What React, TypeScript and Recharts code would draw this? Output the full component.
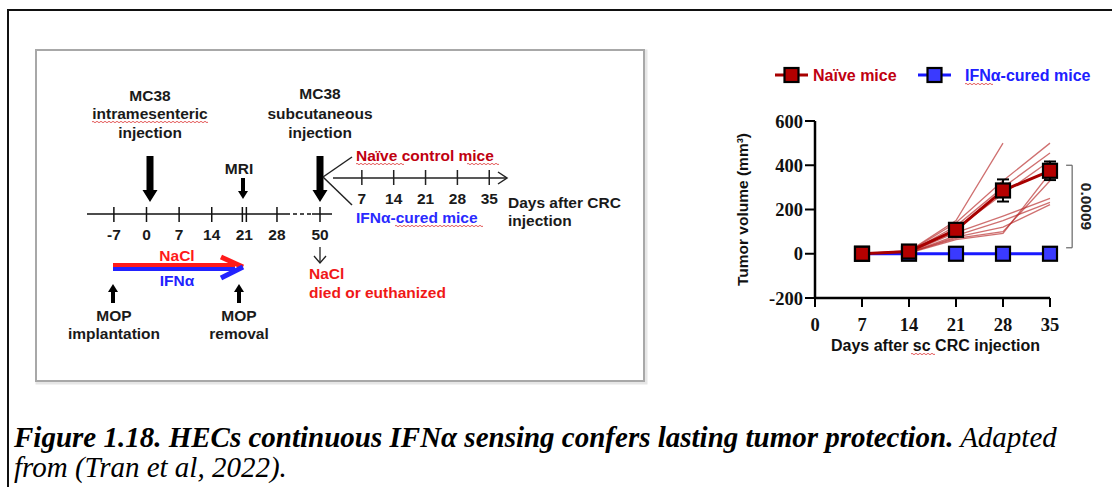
import React from 'react';
import { LineChart, Line, XAxis, YAxis, ErrorBar, ReferenceLine, Label } from 'recharts';

// growth curve data (days after sc CRC injection)
const days = [7, 14, 21, 28, 35];
const naiveMean = [0, 10, 108, 286, 375];
const naiveErr = [0, 0, 0, 50, 42];
const curedMean = [0, 0, 0, 0, 0];

// individual naive mice
const mouse1 = [0, 12, 150, 500, null];
const mouse2 = [0, 10, 140, 330, 500];
const mouse3 = [0, 8, 125, 300, 455];
const mouse4 = [0, 14, 112, 270, 420];
const mouse5 = [0, 6, 95, 170, 250];
const mouse6 = [0, 5, 82, 150, 232];
const mouse7 = [0, 4, 75, 120, 222];
const mouse8 = [0, 5, 70, 100, 330];
const mouse9 = [0, 3, 64, 92, 365];
const mice = [mouse1, mouse2, mouse3, mouse4, mouse5, mouse6, mouse7, mouse8, mouse9];

const xTicks = [0, 7, 14, 21, 28, 35];
const yTicks = [-200, 0, 200, 400, 600];
const seriesNames = ['Naïve mice', 'IFNα-cured mice'];
const pValue = '0.0009';

// schematic timelines
const preDays = [-7, 0, 7, 14, 21, 28];
const breakDay = 50;
const postDays = [7, 14, 21, 28, 35];

const data = days.map((d, i) => {
  const row: Record<string, number | null> = {
    day: d,
    naive: naiveMean[i],
    naiveErr: naiveErr[i],
    cured: curedMean[i],
  };
  mice.forEach((m, j) => {
    row['m' + j] = m[i];
  });
  return row;
});

const RED = '#a80000';
const RED_FILL = '#b40000';
const RED_TEXT = '#c00010';
const BLUE = '#1818ff';
const BLUE_FILL = '#3a3aff';
const SANS = "'Liberation Sans', Arial, sans-serif";
const SERIF = "'Liberation Serif', 'Times New Roman', serif";

const squareDot = (fill: string) => (props: any) => {
  const { cx, cy, index } = props;
  if (cx == null || cy == null) return <g key={index} />;
  return (
    <rect key={index} x={cx - 7} y={cy - 7} width={14} height={14} fill={fill} stroke="#000" strokeWidth={2.2} />
  );
};

const wavy = (x1: number, x2: number, y: number, key: string) => {
  let d = `M${x1},${y}`;
  for (let x = x1; x < x2; x += 4) d += ' q1,-1.4 2,0 q1,1.4 2,0';
  return <path key={key} d={d} stroke="#e04848" strokeWidth={0.9} fill="none" />;
};

const T = ({ x, y, children, color = '#1a1a1a', anchor = 'middle', size = 15.5 }: any) => (
  <text
    x={x}
    y={y}
    fill={color}
    textAnchor={anchor}
    dominantBaseline="central"
    fontSize={size}
    fontWeight="bold"
    fontFamily={SANS}
  >
    {children}
  </text>
);

const blockArrow = (x: number, yTail: number, yTip: number, shaft: number, head: number, headLen: number) => {
  const dir = yTip > yTail ? 1 : -1;
  const yb = yTip - dir * headLen;
  return (
    <path
      d={`M${x - shaft / 2},${yTail} L${x + shaft / 2},${yTail} L${x + shaft / 2},${yb} L${x + head / 2},${yb} L${x},${yTip} L${x - head / 2},${yb} L${x - shaft / 2},${yb} Z`}
      fill="#000"
    />
  );
};

const preX = (d: number) => 146.5 + d * 4.66;
const postX = (d: number) => 330 + d * 4.55;

const Schematic = () => (
  <g>
    <rect x={37} y={51} width={609} height={332} fill="none" stroke="#e6e6e6" strokeWidth={3} />
    <rect x={36} y={50} width={608} height={331} fill="#fff" stroke="#a8a8a8" strokeWidth={2} />

    <T x={150} y={95}>MC38</T>
    <T x={150} y={113}>intramesenteric</T>
    <T x={150} y={132}>injection</T>
    {wavy(92, 208, 122, 'w1')}
    {blockArrow(150, 156, 202, 7, 15, 12)}

    <T x={239} y={168}>MRI</T>
    {blockArrow(243, 178, 199, 4, 10, 8)}

    <T x={320} y={93}>MC38</T>
    <T x={320} y={113}>subcutaneous</T>
    <T x={320} y={132}>injection</T>
    {blockArrow(320, 156, 202, 7, 15, 12)}

    {/* pre timeline */}
    <line x1={87} y1={214} x2={286} y2={214} stroke="#111" strokeWidth={1.5} />
    <line x1={286} y1={214} x2={312} y2={214} stroke="#111" strokeWidth={1.5} strokeDasharray="4 3" />
    <line x1={312} y1={214} x2={332} y2={214} stroke="#111" strokeWidth={1.5} />
    {preDays.map((d) =>
      d === 21 ? (
        <g key={d}>
          <line x1={preX(d) - 2} y1={207} x2={preX(d) - 2} y2={222} stroke="#111" strokeWidth={1.5} />
          <line x1={preX(d) + 2} y1={207} x2={preX(d) + 2} y2={222} stroke="#111" strokeWidth={1.5} />
        </g>
      ) : (
        <line key={d} x1={preX(d)} y1={207} x2={preX(d)} y2={222} stroke="#111" strokeWidth={1.5} />
      )
    )}
    <line x1={320} y1={207} x2={320} y2={222} stroke="#111" strokeWidth={1.5} />
    {preDays.map((d) => (
      <T key={'l' + d} x={preX(d)} y={234}>
        {d}
      </T>
    ))}
    <T x={320} y={234}>{breakDay}</T>

    {/* treatment arrow */}
    <rect x={113} y={263} width={122} height={4} fill="#ff1a1a" />
    <rect x={113} y={267} width={122} height={4} fill="#2222ff" />
    <path d="M221,257 L243,267" stroke="#ff1a1a" strokeWidth={5} fill="none" />
    <path d="M243,267 L221,278" stroke="#2222ff" strokeWidth={5} fill="none" />
    <T x={177} y={255} color="#ff1a1a">NaCl</T>
    <T x={177} y={280} color="#2222ff">IFNα</T>

    {blockArrow(113, 303, 284, 4, 10, 8)}
    {blockArrow(239, 303, 284, 4, 10, 8)}
    <T x={114} y={315}>MOP</T>
    <T x={114} y={333}>implantation</T>
    <T x={239} y={315}>MOP</T>
    <T x={239} y={333}>removal</T>

    {/* died arrow */}
    <line x1={320} y1={247} x2={320} y2={263} stroke="#222" strokeWidth={1.3} />
    <path d="M314,256 L320,263 L326,256" stroke="#222" strokeWidth={1.3} fill="none" />
    <T x={309} y={273} anchor="start" color="#f01818">NaCl</T>
    <T x={309} y={292} anchor="start" color="#f01818">died or euthanized</T>

    {/* post timeline */}
    <line x1={323} y1={177} x2={352} y2={157} stroke="#222" strokeWidth={1.5} />
    <line x1={323} y1={177} x2={352} y2={205} stroke="#222" strokeWidth={1.5} />
    <line x1={333} y1={178} x2={507} y2={178} stroke="#222" strokeWidth={1.5} />
    <path d="M498,172 L507,178 L498,184" stroke="#222" strokeWidth={1.5} fill="none" />
    {postDays.map((d) => (
      <g key={'p' + d}>
        <line x1={postX(d)} y1={170} x2={postX(d)} y2={185} stroke="#222" strokeWidth={1.5} />
        <T x={postX(d)} y={198}>
          {d}
        </T>
      </g>
    ))}
    <T x={356} y={155} anchor="start" color={RED_TEXT}>Naïve control mice</T>
    {wavy(356, 402, 164, 'w2')}
    {wavy(467, 498, 164, 'w3')}
    <T x={356} y={217} anchor="start" color="#2a2aff">IFNα-cured mice</T>
    {wavy(395, 482, 226, 'w4')}
    <T x={508} y={202} anchor="start">Days after CRC</T>
    <T x={508} y={220} anchor="start">injection</T>
  </g>
);

const legendColors = [
  { line: RED, fill: RED_FILL, text: RED_TEXT, x: 775 },
  { line: BLUE, fill: BLUE_FILL, text: '#2020ff', x: 918 },
];

const Legend = () => (
  <g>
    {seriesNames.map((name, i) => {
      const c = legendColors[i];
      return (
        <g key={name}>
          <line x1={c.x} y1={75} x2={c.x + 33} y2={75} stroke={c.line} strokeWidth={3} />
          <rect x={c.x + 9.5} y={68} width={14} height={14} fill={c.fill} stroke="#000" strokeWidth={2.2} />
          <text
            x={c.x + (i === 0 ? 38 : 47)}
            y={75}
            dominantBaseline="central"
            fill={c.text}
            fontFamily={SANS}
            fontWeight="bold"
            fontSize={16}
          >
            {name}
          </text>
        </g>
      );
    })}
    {wavy(965, 993, 84, 'w5')}
    {wavy(911, 933, 354, 'w6')}
  </g>
);

export default function App() {
  return (
    <div style={{ position: 'absolute', left: 0, top: 0, width: 1112, height: 487, background: '#fff', overflow: 'hidden' }}>
      <svg width={1112} height={487} style={{ position: 'absolute', left: 0, top: 0 }}>
        <line x1={8} y1={10} x2={1112} y2={10} stroke="#111" strokeWidth={2} />
        <line x1={8} y1={9} x2={8} y2={487} stroke="#111" strokeWidth={2} />
        <Schematic />
        <Legend />
        <text x={14} y={447} fontFamily={SERIF} fontSize={29} fontStyle="italic" fill="#000">
          <tspan fontWeight="bold">Figure 1.18. HECs continuous IFNα sensing confers lasting tumor protection.</tspan>
          <tspan> Adapted</tspan>
        </text>
        <text x={14} y={477} fontFamily={SERIF} fontSize={29} fontStyle="italic" fill="#000">
          from (Tran et al, 2022).
        </text>
      </svg>
      <div style={{ position: 'absolute', left: 700, top: 50 }}>
        <LineChart width={412} height={320} data={data} margin={{ top: 71, right: 62, bottom: 42, left: 0 }}>
          <XAxis
            type="number"
            dataKey="day"
            domain={[0, 35]}
            ticks={xTicks}
            interval={0}
            height={30}
            tickSize={9}
            tickMargin={11}
            axisLine={{ stroke: '#000', strokeWidth: 2.5 }}
            tickLine={{ stroke: '#000', strokeWidth: 2 }}
            tick={{ fontFamily: SERIF, fontWeight: 'bold', fontSize: 18.5, fill: '#111' }}
          >
            <Label
              content={({ viewBox }: any) => (
                <text
                  x={viewBox.x + viewBox.width / 2 + 3}
                  y={viewBox.y + 53}
                  textAnchor="middle"
                  fontFamily={SANS}
                  fontWeight="bold"
                  fontSize={16}
                  fill="#111"
                >
                  Days after sc CRC injection
                </text>
              )}
            />
          </XAxis>
          <YAxis
            type="number"
            domain={[-200, 600]}
            ticks={yTicks}
            interval={0}
            width={115}
            tickSize={10}
            tickMargin={2}
            axisLine={{ stroke: '#000', strokeWidth: 2.5 }}
            tickLine={{ stroke: '#000', strokeWidth: 2 }}
            tick={{ fontFamily: SERIF, fontWeight: 'bold', fontSize: 18.5, fill: '#111' }}
          >
            <Label
              content={({ viewBox }: any) => {
                const cx = 42;
                const cy = viewBox.y + viewBox.height / 2;
                return (
                  <text
                    x={cx}
                    y={cy}
                    transform={`rotate(-90 ${cx} ${cy})`}
                    textAnchor="middle"
                    dominantBaseline="central"
                    fontFamily={SANS}
                    fontWeight="bold"
                    fontSize={15.5}
                    fill="#111"
                  >
                    Tumor volume (mm³)
                  </text>
                );
              }}
            />
          </YAxis>

          {mice.map((_, j) => (
            <Line
              key={'m' + j}
              dataKey={'m' + j}
              type="linear"
              stroke="#b52424"
              strokeOpacity={0.65}
              strokeWidth={1.3}
              dot={false}
              activeDot={false}
              isAnimationActive={false}
            />
          ))}
          <Line
            dataKey="cured"
            name={seriesNames[1]}
            type="linear"
            stroke={BLUE}
            strokeWidth={3}
            dot={squareDot(BLUE_FILL)}
            activeDot={false}
            isAnimationActive={false}
          />
          <Line
            dataKey="naive"
            name={seriesNames[0]}
            type="linear"
            stroke={RED}
            strokeWidth={3}
            dot={squareDot(RED_FILL)}
            activeDot={false}
            isAnimationActive={false}
          >
            <ErrorBar dataKey="naiveErr" direction="y" width={6} stroke="#000" strokeWidth={2} />
          </Line>

          <ReferenceLine
            segment={[{ x: 38.3, y: 400 }, { x: 38.3, y: 27 }]}
            ifOverflow="visible"
            stroke="#666"
            strokeWidth={1.2}
            label={(props: any) => {
              const vb = props.viewBox || {};
              const cx = (vb.x || 0) + 14;
              const cy = (vb.y || 0) + (vb.height || 0) / 2;
              return (
                <text
                  x={cx}
                  y={cy}
                  transform={`rotate(90 ${cx} ${cy})`}
                  textAnchor="middle"
                  dominantBaseline="central"
                  fontFamily={SANS}
                  fontWeight="bold"
                  fontSize={15.5}
                  fill="#222"
                >
                  {pValue}
                </text>
              );
            }}
          />
          <ReferenceLine segment={[{ x: 37.4, y: 400 }, { x: 38.3, y: 400 }]} ifOverflow="visible" stroke="#666" strokeWidth={1.2} />
          <ReferenceLine segment={[{ x: 37.4, y: 27 }, { x: 38.3, y: 27 }]} ifOverflow="visible" stroke="#666" strokeWidth={1.2} />
        </LineChart>
      </div>
    </div>
  );
}
